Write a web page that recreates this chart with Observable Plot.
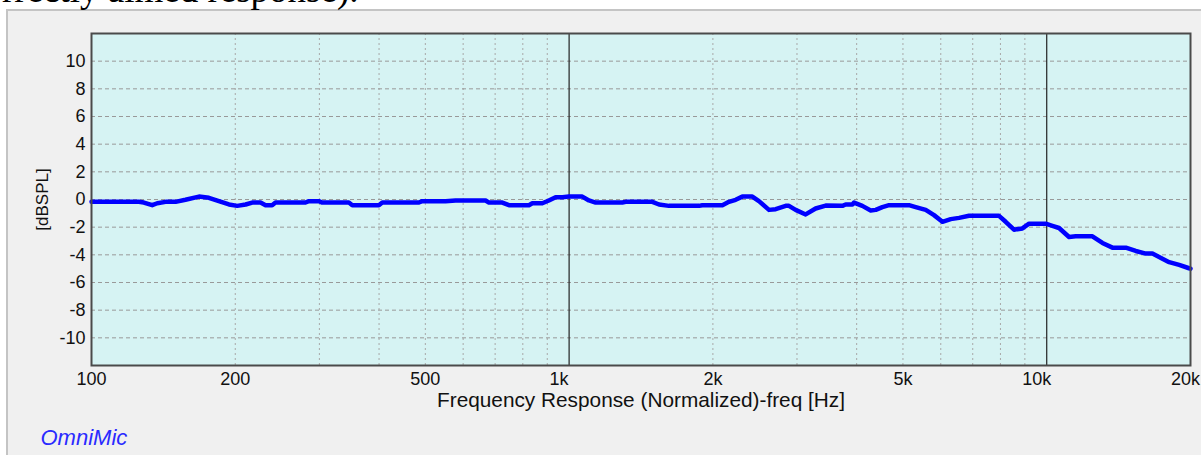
<!DOCTYPE html>
<html>
<head>
<meta charset="utf-8">
<script src="https://cdn.jsdelivr.net/npm/d3@7"></script>
<script src="https://cdn.jsdelivr.net/npm/@observablehq/plot@0.6"></script>
<style>
  html, body { margin: 0; padding: 0; background: #ffffff; width: 1201px; height: 455px; overflow: hidden; position: relative; }
  #panel { position: absolute; left: 6px; top: 9px; width: 1210px; height: 460px; background: #f0f0f0; border: 2px solid #c4c4c4; box-sizing: border-box; }
  #chart { position: absolute; left: 0; top: 0; }
  #toptext { position: absolute; left: 2px; top: -29px; font-family: "Liberation Serif", "Times New Roman", serif; font-size: 37px; line-height: 1; white-space: nowrap; color: #000; z-index: 2; }
</style>
</head>
<body>
<div id="toptext">rrectly aimed response).</div>
<div id="panel"></div>
<div id="chart"></div>
<script>
// Frequency response data (Hz, dBSPL)
const freq = [100, 125.6, 128.7, 134, 137.3, 142.9, 150, 157.3, 167.9, 176.1, 184.8, 194, 201.9, 210.2, 217, 225.9, 231.4, 238.9, 242.8, 280.6, 285.2, 299.2, 304.2, 345.8, 351.6, 399.7, 406.3, 484.8, 492.6, 551.2, 578.4, 668.6, 679.4, 724.6, 748.2, 823.9, 837.5, 878.8, 907.1, 936.9, 967.6, 999, 1065.7, 1100.3, 1136.3, 1292.7, 1313.4, 1494, 1542.6, 1618.6, 1870.4, 1901, 2094, 2161, 2232, 2305, 2419, 2497, 2621, 2707, 2841, 2886, 2980, 3128, 3282, 3445, 3734, 3793, 3919, 3950, 4111, 4280, 4385, 4528, 4676, 5147, 5317, 5580, 5808, 6047, 6295, 6553, 6876, 7945, 8205, 8541, 8893, 9184, 9952, 10277, 10612, 11136, 11501, 12465, 13081, 13727, 14640, 15361, 16119, 16647, 17189, 18044, 18936, 19861, 20000];
const spl = [-0.17, -0.17, -0.22, -0.41, -0.27, -0.17, -0.17, -0.02, 0.21, 0.12, -0.12, -0.36, -0.46, -0.36, -0.22, -0.22, -0.41, -0.41, -0.22, -0.22, -0.12, -0.12, -0.22, -0.22, -0.41, -0.41, -0.22, -0.22, -0.12, -0.12, -0.07, -0.07, -0.22, -0.22, -0.41, -0.41, -0.27, -0.27, -0.07, 0.17, 0.17, 0.21, 0.21, -0.07, -0.22, -0.22, -0.17, -0.17, -0.36, -0.46, -0.46, -0.41, -0.41, -0.17, -0.02, 0.21, 0.21, -0.12, -0.75, -0.7, -0.46, -0.46, -0.75, -1.08, -0.65, -0.44, -0.46, -0.36, -0.36, -0.22, -0.46, -0.79, -0.75, -0.55, -0.41, -0.41, -0.55, -0.75, -1.13, -1.61, -1.42, -1.33, -1.18, -1.18, -1.61, -2.18, -2.09, -1.75, -1.75, -1.9, -2.06, -2.71, -2.66, -2.66, -3.14, -3.48, -3.48, -3.72, -3.91, -3.91, -4.15, -4.53, -4.73, -4.97, -5.0];

// Axis ticks and labels
const xTickValues = [100, 200, 500, 1000, 2000, 5000, 10000, 20000];
const xTickLabels = ["100", "200", "500", "1k", "2k", "5k", "10k", "20k"];
const xMinorGrid = [200, 300, 400, 500, 600, 700, 800, 900, 2000, 3000, 4000, 5000, 6000, 7000, 8000, 9000];
const xDecadeLines = [1000, 10000];
const yTickValues = [-10, -8, -6, -4, -2, 0, 2, 4, 6, 8, 10];
const xTitle = "Frequency Response (Normalized)-freq [Hz]";
const yTitle = "[dBSPL]";
const brand = "OmniMic";

const data = freq.map((f, i) => ({f, v: spl[i]}));
const labelOf = d => xTickLabels[xTickValues.indexOf(d)];
const tickGroup = (vals, dx) => Plot.axisX(vals, {
  tickSize: 0, tickPadding: 7, tickFormat: labelOf, fontSize: 18, fill: "#111", dx, label: null
});

const chart = Plot.plot({
  width: 1201,
  height: 455,
  marginLeft: 91,
  marginRight: 11,
  marginTop: 33,
  marginBottom: 90,
  style: { background: "transparent", fontFamily: "'Liberation Sans', Arial, sans-serif", fontSize: "18px", color: "#111" },
  x: { type: "log", domain: [100, 20000] },
  y: { domain: [-12, 12] },
  marks: [
    Plot.frame({ fill: "#d6f3f3", stroke: null }),
    Plot.gridX(xMinorGrid, { stroke: "#a8a8a8", strokeOpacity: 1, strokeDasharray: "2,3", strokeWidth: 1 }),
    Plot.gridY(yTickValues, { stroke: "#999999", strokeOpacity: 1, strokeDasharray: "4,3", strokeWidth: 1 }),
    Plot.ruleX(xDecadeLines, { stroke: "#222", strokeWidth: 1.2 }),
    Plot.line(data, { x: "f", y: "v", stroke: "#0000ff", strokeWidth: 4.5, strokeLinejoin: "round" }),
    Plot.frame({ stroke: "#4a4a4a", strokeWidth: 2 }),
    tickGroup([100, 200, 500, 2000, 5000], 0),
    tickGroup([1000, 10000], -10),
    tickGroup([20000], -5),
    Plot.axisY(yTickValues, { tickSize: 0, tickPadding: 6, tickFormat: d => String(d), fontSize: 18, fill: "#111", label: null }),
    Plot.text([xTitle], { frameAnchor: "bottom", dy: 35, textAnchor: "middle", lineAnchor: "middle", fontSize: 20.8, fill: "#111" }),
    Plot.text([yTitle], { frameAnchor: "left", dx: -49, rotate: -90, textAnchor: "middle", lineAnchor: "middle", fontSize: 17, fill: "#111" }),
    Plot.text([brand], { frameAnchor: "bottom-left", dx: -51, dy: 72, textAnchor: "start", lineAnchor: "middle", fontSize: 22, fontStyle: "italic", fill: "#2a2aff" })
  ]
});
document.getElementById("chart").appendChild(chart);
</script>
</body>
</html>
